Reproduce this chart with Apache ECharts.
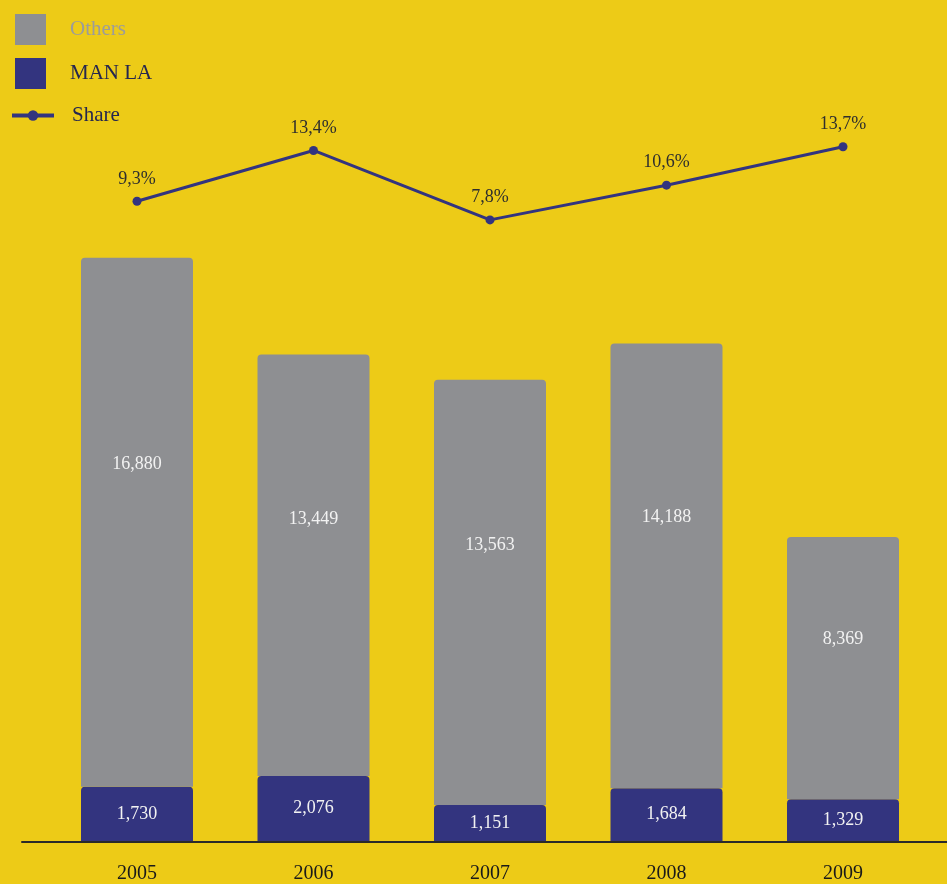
<!DOCTYPE html>
<html>
<head>
<meta charset="utf-8">
<script src="https://cdn.jsdelivr.net/npm/echarts@6/dist/echarts.min.js"></script>
<style>
html,body{margin:0;padding:0;background:#EDCB17;}
#c{width:947px;height:884px;}
</style>
</head>
<body>
<div id="c"></div>
<script>
const years = ['2005', '2006', '2007', '2008', '2009'];
const manLA = [1730, 2076, 1151, 1684, 1329];
const others = [16880, 13449, 13563, 14188, 8369];
const share = [9.3, 13.4, 7.8, 10.6, 13.7];

const FONT = '"Liberation Serif", "DejaVu Serif", serif';
const NAVY = '#33347F';
const GRAY = '#8E8F92';

const chart = echarts.init(document.getElementById('c'));
chart.setOption({
  backgroundColor: '#EDCB17',
  animation: false,
  legend: [{
    orient: 'vertical', left: 15, top: 14, padding: 0,
    itemWidth: 31, itemHeight: 31, itemGap: 13,
    icon: 'rect',
    textStyle: {fontFamily: FONT, fontSize: 21, padding: [0, 0, 0, 19]},
    data: [
      {name: 'Others', textStyle: {color: '#9C9C9A'}},
      {name: 'MAN LA', textStyle: {color: '#25264F'}}
    ]
  }, {
    orient: 'vertical', left: 10, top: 105, padding: 0,
    itemWidth: 42, itemHeight: 13,
    lineStyle: {width: 4},
    textStyle: {fontFamily: FONT, fontSize: 21, color: '#25264F', padding: [0, 0, 0, 13]},
    data: ['Share']
  }],
  grid: [
    {left: 48.75, right: 15.75, top: 57.5, bottom: 42},
    {left: 22, right: 0, top: 57.5, bottom: 42}
  ],
  xAxis: [{
    type: 'category', data: years, gridIndex: 0,
    axisLine: {show: false}, axisTick: {show: false},
    axisLabel: {fontFamily: FONT, fontSize: 20, color: '#1A1A1A', margin: 23}
  }, {
    type: 'category', data: [], gridIndex: 1,
    axisLine: {show: true, lineStyle: {color: '#2A2A2A', width: 2}},
    axisTick: {show: false}, axisLabel: {show: false}
  }],
  yAxis: [
    {type: 'value', gridIndex: 0, min: 0, max: 25000, show: false, splitLine: {show: false}},
    {type: 'value', gridIndex: 0, min: -42.3, max: 20.9, show: false, splitLine: {show: false}},
    {type: 'value', gridIndex: 1, show: false, splitLine: {show: false}}
  ],
  series: [{
    name: 'MAN LA', type: 'bar', stack: 'a', data: manLA, barWidth: 112,
    itemStyle: {color: NAVY, borderRadius: [4, 4, 0, 0]},
    label: {show: true, position: 'inside', color: '#F2F2F2', fontFamily: FONT, fontSize: 18,
      formatter: p => p.value.toLocaleString('en-US')}
  }, {
    name: 'Others', type: 'bar', stack: 'a', data: others, barWidth: 112,
    itemStyle: {color: GRAY, borderRadius: [4, 4, 0, 0]},
    label: {show: true, position: ['50%', '39%'], align: 'center', verticalAlign: 'middle',
      color: '#F2F2F2', fontFamily: FONT, fontSize: 18,
      formatter: p => p.value.toLocaleString('en-US')}
  }, {
    name: 'Share', type: 'line', yAxisIndex: 1, data: share,
    symbol: 'circle', symbolSize: 9,
    lineStyle: {color: NAVY, width: 3}, itemStyle: {color: NAVY},
    label: {show: true, position: 'top', distance: 9, color: '#2E2E2E', fontFamily: FONT, fontSize: 18,
      formatter: p => String(p.value).replace('.', ',') + '%'}
  }]
});
</script>
</body>
</html>
